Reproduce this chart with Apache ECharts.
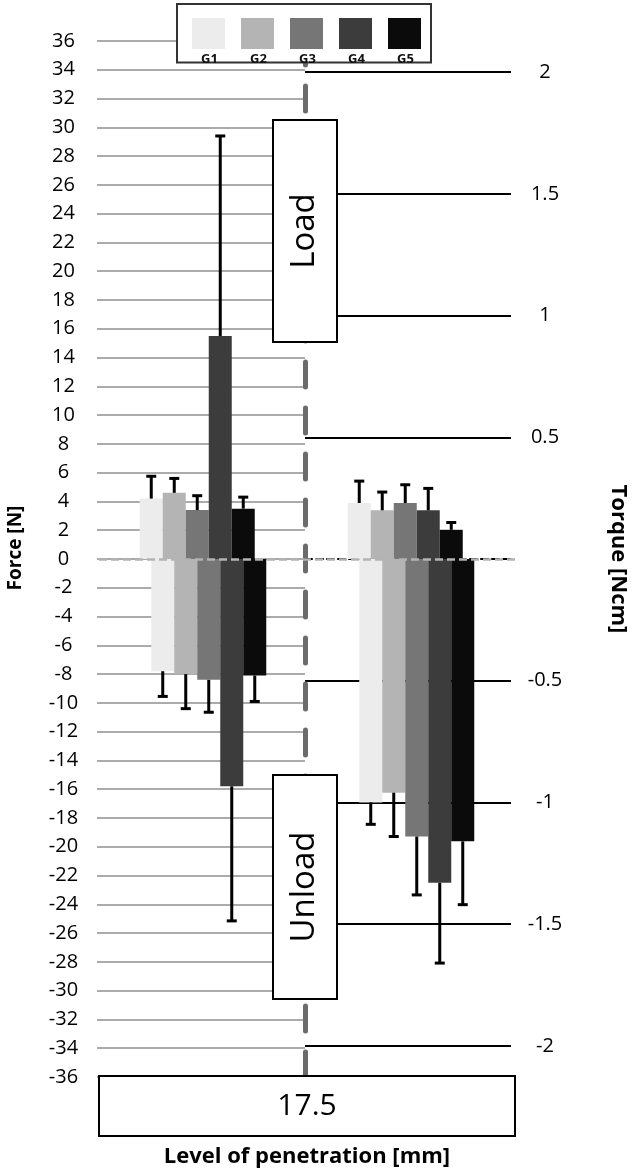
<!DOCTYPE html>
<html>
<head>
<meta charset="utf-8">
<title>Force and torque at 17.5 mm</title>
<script src="https://cdn.jsdelivr.net/npm/echarts@6/dist/echarts.min.js"></script>
<style>
  html, body { margin: 0; padding: 0; background: #fff; }
  #chart { width: 633px; height: 1173px; }
</style>
</head>
<body>
<div id="chart"></div>
<script>
// groups shown in the legend
const groups = ['G1', 'G2', 'G3', 'G4', 'G5'];
const groupColors = ['#ececec', '#b4b4b4', '#767676', '#3c3c3c', '#0b0b0b'];
const penetration = ['17.5'];
const panels = ['Force', 'Torque'];

// force [N]: means and one-sided SD whiskers
const forceLoad = [4.2, 4.6, 3.4, 15.5, 3.5];
const forceLoadSd = [1.55, 1.0, 1.0, 13.9, 0.8];
const forceUnload = [-7.8, -8.0, -8.4, -15.8, -8.1];
const forceUnloadSd = [1.75, 2.4, 2.25, 9.35, 1.8];

// torque [Ncm]
const torqueLoad = [0.23, 0.20, 0.23, 0.20, 0.12];
const torqueLoadSd = [0.09, 0.075, 0.075, 0.09, 0.03];
const torqueUnload = [-1.0, -0.96, -1.14, -1.33, -1.16];
const torqueUnloadSd = [0.09, 0.18, 0.24, 0.33, 0.26];

const torqueTicks = [-2, -1.5, -1, -0.5, 0.5, 1, 1.5, 2];
const torqueLimit = 2.128; // keeps torque 0 level with force 0

const FONT = 'Open Sans';
const BAR_W = 23;
const BAR_GAP = '-50%';

// one-sided error whiskers, placed on the same slots as the bars
function errorBar (params, api) {
  const cat = api.value(0);
  const g = api.value(1);
  const mean = api.value(2);
  const sd = api.value(3);
  const slots = api.barLayout({ barWidth: BAR_W, barGap: BAR_GAP, count: groups.length * 2 });
  const slot = slots[g * 2 + (mean < 0 ? 1 : 0)];
  const from = api.coord([cat, mean]);
  const to = api.coord([cat, mean < 0 ? mean - sd : mean + sd]);
  const x = from[0] + slot.offsetCenter;
  const style = { stroke: '#000', lineWidth: 3 };
  return {
    type: 'group',
    children: [
      { type: 'line', shape: { x1: x, y1: from[1], x2: x, y2: to[1] }, style: style },
      { type: 'line', shape: { x1: x - 5, y1: to[1], x2: x + 5, y2: to[1] }, style: style }
    ]
  };
}

const barCommon = { type: 'bar', xAxisIndex: 3, barWidth: BAR_W, barGap: BAR_GAP };

const forceBars = groups.flatMap((g, i) => [
  Object.assign({}, barCommon, { name: g, stack: 'load' + g, yAxisIndex: 3, data: [forceLoad[i], '-'], itemStyle: { color: groupColors[i] } }),
  Object.assign({}, barCommon, { name: g, stack: 'unload' + g, yAxisIndex: 3, data: [forceUnload[i], '-'], itemStyle: { color: groupColors[i] } })
]);
const torqueBars = groups.flatMap((g, i) => [
  Object.assign({}, barCommon, { name: g, stack: 'load' + g, yAxisIndex: 4, data: ['-', torqueLoad[i]], itemStyle: { color: groupColors[i] } }),
  Object.assign({}, barCommon, { name: g, stack: 'unload' + g, yAxisIndex: 4, data: ['-', torqueUnload[i]], itemStyle: { color: groupColors[i] } })
]);

// gray dashed zero line drawn over the bars
forceBars[0].markLine = {
  silent: true,
  symbol: 'none',
  label: { show: false },
  lineStyle: { color: '#b3b3b3', width: 2.5, type: [8, 4] },
  data: [{ yAxis: 0 }]
};

const forceErr = groups.map((g, i) => [0, i, forceLoad[i], forceLoadSd[i]])
  .concat(groups.map((g, i) => [0, i, forceUnload[i], forceUnloadSd[i]]));
const torqueErr = groups.map((g, i) => [1, i, torqueLoad[i], torqueLoadSd[i]])
  .concat(groups.map((g, i) => [1, i, torqueUnload[i], torqueUnloadSd[i]]));

const gridTop = 41;
const gridHeight = 1036;

const option = {
  animation: false,
  textStyle: { fontFamily: FONT },
  legend: {
    data: groups,
    left: 177,
    top: 4,
    icon: 'rect',
    itemWidth: 33,
    itemHeight: 31,
    itemGap: 16,
    selectedMode: false,
    padding: [14, 10, -3, 15],
    borderColor: '#333',
    borderWidth: 2,
    backgroundColor: '#fff',
    formatter: name => '{n|' + name + '}',
    textStyle: {
      // pulls each name under its swatch
      padding: [51, 0, 0, -29],
      rich: {
        n: { fontSize: 13, fontWeight: 'bold', color: '#111', lineHeight: 10, fontFamily: FONT }
      }
    }
  },
  grid: [
    { left: 97, width: 208, top: gridTop, height: gridHeight, outerBoundsMode: 'none' },
    { left: 305, width: 206, top: gridTop, height: gridHeight, outerBoundsMode: 'none' },
    { left: 99, width: 416, top: gridTop, height: gridHeight, outerBoundsMode: 'none' }
  ],
  xAxis: [
    { gridIndex: 0, type: 'category', data: penetration, show: false },
    {
      gridIndex: 1, type: 'category', data: penetration,
      axisLine: { show: true, lineStyle: { color: '#000', width: 2, type: [7, 4] } },
      axisTick: { show: false },
      axisLabel: { show: false },
      splitLine: { show: false }
    },
    {
      gridIndex: 2, type: 'category', data: penetration, position: 'bottom',
      name: 'Level of penetration [mm]',
      nameLocation: 'middle',
      nameGap: 69,
      nameTextStyle: { fontSize: 22, fontWeight: 'bold', color: '#000' },
      axisLine: { show: false },
      axisTick: { show: false },
      axisLabel: {
        margin: 0,
        fontSize: 30,
        color: '#000',
        backgroundColor: '#fff',
        borderColor: '#000',
        borderWidth: 2,
        width: 414,
        align: 'center',
        lineHeight: 34,
        padding: [12, 0, 12, 0]
      }
    },
    { gridIndex: 2, type: 'category', data: panels, position: 'top', show: false }
  ],
  yAxis: [
    {
      gridIndex: 0, type: 'value', position: 'left', min: -36, max: 36, interval: 2,
      name: 'Force [N]',
      nameLocation: 'middle',
      nameGap: 72,
      nameTextStyle: { fontSize: 19, fontWeight: 'bold', color: '#000', padding: [0, 0, 0, 22] },
      axisLine: { show: false },
      axisTick: { show: false },
      axisLabel: { margin: 33.5, align: 'center', fontSize: 20, color: '#000' },
      splitLine: { show: true, lineStyle: { color: '#ababab', width: 2 } }
    },
    {
      gridIndex: 1, type: 'value', position: 'right', min: -torqueLimit, max: torqueLimit,
      name: 'Torque [Ncm]',
      nameLocation: 'middle',
      nameRotate: -90,
      nameGap: 96,
      nameTextStyle: { fontSize: 22, fontWeight: 'bold', color: '#000' },
      axisLine: { show: false },
      axisTick: { show: false, customValues: torqueTicks },
      axisLabel: { customValues: torqueTicks, margin: 34, align: 'center', fontSize: 20, color: '#000' },
      splitLine: { show: true, lineStyle: { color: '#000', width: 2 } }
    },
    {
      // dashed divider between the force and torque panels
      gridIndex: 1, type: 'value', position: 'left', min: -torqueLimit, max: torqueLimit,
      axisLine: { show: true, lineStyle: { color: '#6b6b6b', width: 5, type: [25, 21] } },
      axisTick: { show: false },
      axisLabel: { show: false },
      splitLine: { show: false }
    },
    { gridIndex: 2, type: 'value', position: 'left', min: -36, max: 36, interval: 2, show: false },
    { gridIndex: 2, type: 'value', position: 'right', min: -torqueLimit, max: torqueLimit, show: false }
  ],
  series: forceBars.concat(torqueBars, [
    {
      type: 'custom', name: 'force SD', xAxisIndex: 3, yAxisIndex: 3, z: 3,
      renderItem: errorBar, encode: { x: 0, y: 2 }, data: forceErr
    },
    {
      type: 'custom', name: 'torque SD', xAxisIndex: 3, yAxisIndex: 4, z: 3,
      renderItem: errorBar, encode: { x: 0, y: 2 }, data: torqueErr
    }
  ]),
  graphic: [
    {
      type: 'rect', z: 100,
      shape: { x: 273, y: 120, width: 64, height: 222 },
      style: { fill: '#fff', stroke: '#000', lineWidth: 2 }
    },
    {
      type: 'text', z: 101, x: 305, y: 231, rotation: Math.PI / 2,
      style: { text: 'Load', fontSize: 33, fontFamily: FONT, fill: '#000', align: 'center', verticalAlign: 'middle' }
    },
    {
      type: 'rect', z: 100,
      shape: { x: 273, y: 775, width: 64, height: 224 },
      style: { fill: '#fff', stroke: '#000', lineWidth: 2 }
    },
    {
      type: 'text', z: 101, x: 305, y: 887, rotation: Math.PI / 2,
      style: { text: 'Unload', fontSize: 33, fontFamily: FONT, fill: '#000', align: 'center', verticalAlign: 'middle' }
    }
  ]
};

const myChart = echarts.init(document.getElementById('chart'));
myChart.setOption(option);
window.onresize = myChart.resize;
</script>
</body>
</html>
